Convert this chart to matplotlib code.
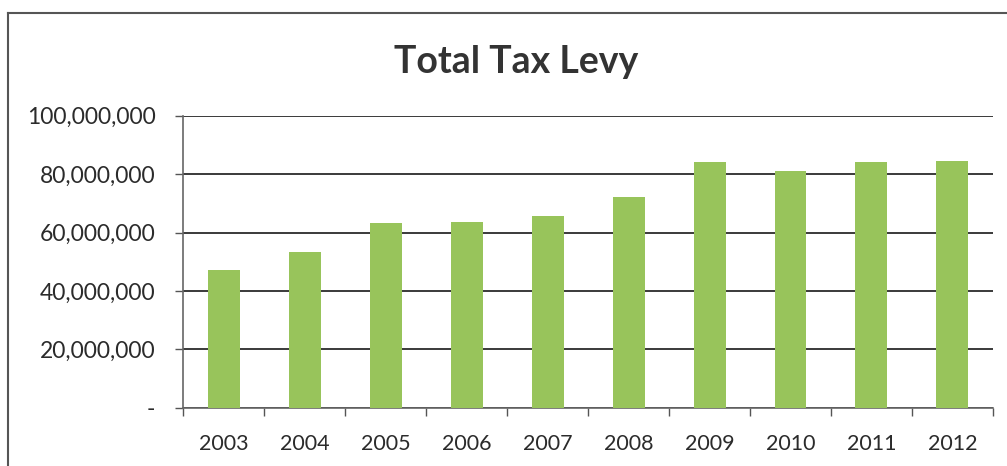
import numpy as np
import matplotlib
matplotlib.use("Agg")
import matplotlib.pyplot as plt
from matplotlib.lines import Line2D
from matplotlib.ticker import FuncFormatter, FixedLocator

years = ["2003", "2004", "2005", "2006", "2007", "2008", "2009", "2010", "2011", "2012"]
levy = [47.2e6, 53.2e6, 63.2e6, 63.7e6, 65.5e6, 72.3e6, 84.1e6, 81.0e6, 84.1e6, 84.6e6]
y_ticks = [0, 20e6, 40e6, 60e6, 80e6, 100e6]

plt.rcParams['font.family'] = ['Lato', 'DejaVu Sans']
text_col = '#2b2b2b'

fig = plt.figure(figsize=(10.07, 4.66), dpi=100)
ax = fig.add_axes([0.182, 0.1251, 0.804, 0.6266])

x = np.arange(len(years))
ax.bar(x, levy, width=0.395, color='#98c45b', zorder=3)

ax.set_xlim(-0.5, len(years) - 0.5)
ax.set_ylim(0, 100e6)

# accounting style labels: zero shows as a dash
def fmt(v, pos):
    if v == 0:
        return "-"
    return "{:,.0f}".format(v)

ax.yaxis.set_major_locator(FixedLocator(y_ticks))
ax.yaxis.set_major_formatter(FuncFormatter(fmt))
ax.grid(axis='y', color='#3a3a3a', linewidth=1.4, zorder=1)

ax.set_xticks(x)
ax.set_xticklabels(years)
ax.set_xticks(np.arange(-0.5, len(years)), minor=True)
ax.tick_params(axis='x', which='major', length=0, pad=19, labelsize=15.5, labelcolor=text_col)
ax.tick_params(axis='x', which='minor', length=6, width=1, color='#555555', direction='out')
ax.tick_params(axis='y', length=6, width=1, color='#555555', pad=14, labelsize=16.5, labelcolor=text_col)

for s in ['top', 'right']:
    ax.spines[s].set_visible(False)
for s in ['left', 'bottom']:
    ax.spines[s].set_color('#666666')
    ax.spines[s].set_linewidth(1.2)

fig.text(0.513, 0.867, "Total Tax Levy", ha='center', va='center',
         fontsize=27, fontweight='bold', color='#333333')

# chart frame (left and top edges)
fl = 8 / 1007
ft = 1 - 13 / 466
fig.add_artist(Line2D([fl, fl], [0, ft], transform=fig.transFigure, color='#555555', linewidth=1.5))
fig.add_artist(Line2D([fl, 1], [ft, ft], transform=fig.transFigure, color='#555555', linewidth=1.5))

fig.savefig("out.png", dpi=100)
